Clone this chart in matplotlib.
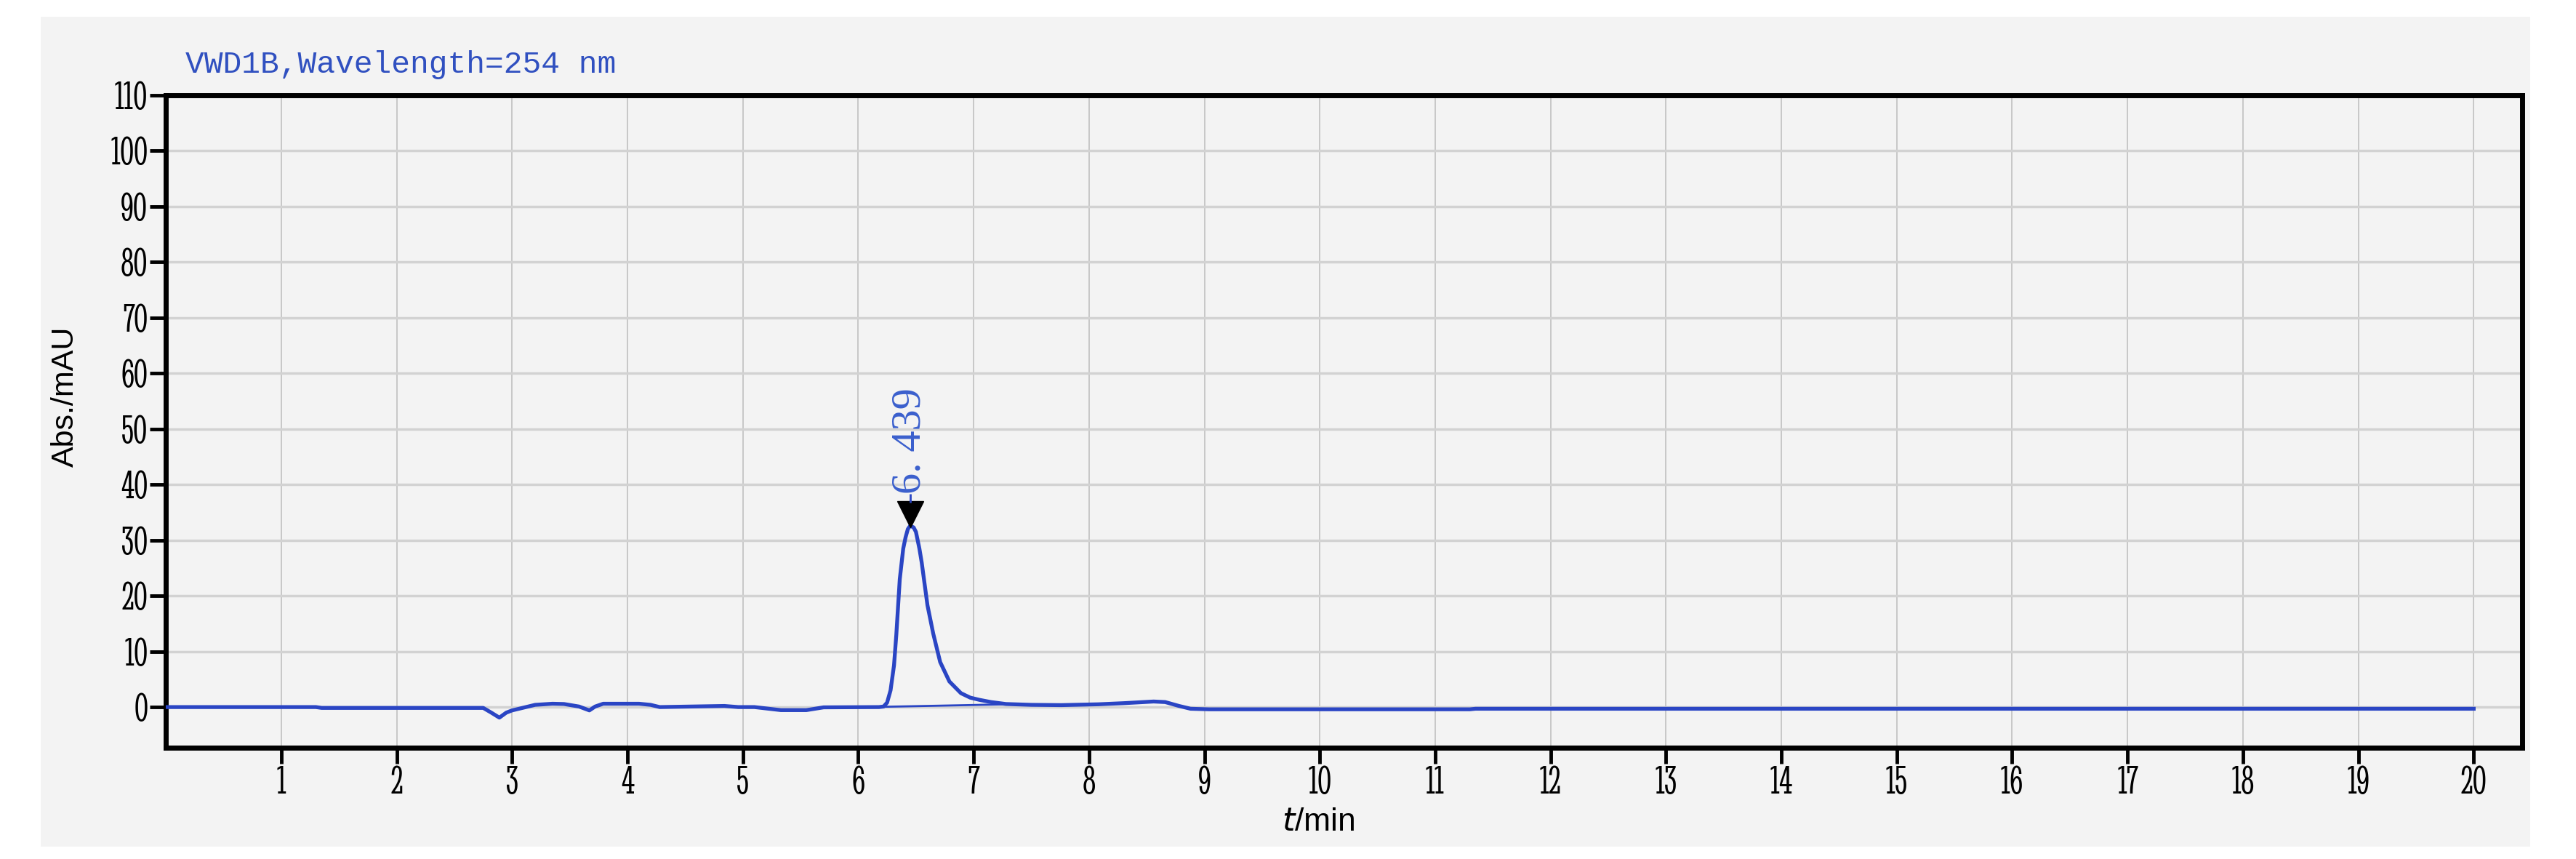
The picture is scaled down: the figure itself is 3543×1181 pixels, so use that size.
import matplotlib
matplotlib.use('Agg')
import matplotlib.pyplot as plt
import matplotlib.transforms as mtransforms
from matplotlib.patches import Rectangle

# chromatogram trace (time in min, absorbance in mAU)
time_min = [0.0, 1.3, 1.35, 2.75, 2.82, 2.89, 2.95, 3.0, 3.07, 3.2, 3.35, 3.45, 3.58,
            3.67, 3.72, 3.79, 4.1, 4.2, 4.28, 4.84, 4.96, 5.1, 5.33, 5.55, 5.7,
            6.18, 6.22, 6.25, 6.28, 6.31, 6.33, 6.36, 6.39, 6.41, 6.43, 6.45, 6.48,
            6.5, 6.53, 6.55, 6.6, 6.65, 6.71, 6.79, 6.89, 6.97, 7.05, 7.15, 7.28,
            7.5, 7.76, 8.08, 8.3, 8.56, 8.66, 8.78, 8.88, 9.04, 11.3, 11.35, 20.0]
abs_mau = [0.0, 0.0, -0.15, -0.15, -1.0, -1.9, -1.0, -0.6, -0.25, 0.4, 0.6, 0.55, 0.1,
           -0.6, 0.1, 0.6, 0.6, 0.4, 0.0, 0.2, 0.0, 0.0, -0.55, -0.55, -0.05,
           0.0, 0.1, 0.8, 3.0, 7.5, 13.0, 23.0, 28.5, 30.5, 32.0, 32.6, 32.3,
           31.5, 28.5, 26.0, 18.3, 13.2, 8.1, 4.6, 2.5, 1.7, 1.3, 0.9, 0.55,
           0.4, 0.35, 0.5, 0.7, 1.0, 0.9, 0.2, -0.3, -0.4, -0.4, -0.3, -0.3]

# integration baseline under the peak
base_t = [6.22, 7.3]
base_a = [0.05, 0.5]

peak_x = 6.45
peak_y = 32.6
peak_label = '6. 439'

title = 'VWD1B,Wavelength=254 nm'
xticks = list(range(1, 21))
yticks = list(range(0, 111, 10))

blue = '#2a45c4'
panel = '#f3f3f3'
tick_font = dict(family='Stint Ultra Condensed', fontsize=41)

fig = plt.figure(figsize=(35.43, 11.81), dpi=100)
fig.patch.set_facecolor('white')
fig.patches.append(Rectangle((0.0158, 0.0144), 0.9664, 0.9661, transform=fig.transFigure,
                             facecolor=panel, edgecolor='none', zorder=-10))

ax = fig.add_axes([0.0644, 0.1296, 0.9147, 0.7595])
ax.set_facecolor(panel)
ax.set_xlim(0, 20.42)
ax.set_ylim(-7.3, 110)

ax.set_xticks(xticks)
ax.set_yticks(yticks)
ax.set_xticklabels([str(v) for v in xticks], **tick_font)
ax.set_yticklabels([str(v) for v in yticks], **tick_font)
ax.tick_params(axis='both', direction='out', length=16, width=3.5, color='black', pad=2)

ax.grid(axis='x', color='#c4c4c4', linewidth=1.3)
ax.grid(axis='y', color='#d2d2d2', linewidth=2.5)
ax.set_axisbelow(True)
for s in ax.spines.values():
    s.set_linewidth(5)
    s.set_color('black')

ax.plot(time_min, abs_mau, color=blue, linewidth=3.8, zorder=3)
ax.plot(base_t, base_a, color=blue, linewidth=2, zorder=3)

# peak marker, tip on the apex
tri = mtransforms.offset_copy(ax.transData, fig=fig, x=0, y=16, units='dots')
ax.plot([peak_x], [peak_y], marker='v', markersize=26, color='black', transform=tri, zorder=4)
stem = mtransforms.offset_copy(ax.transData, fig=fig, x=0, y=38, units='dots')
ax.plot([peak_x], [peak_y], marker='|', markersize=9, markeredgewidth=2, color=blue,
        transform=stem, zorder=4)
ax.annotate(peak_label, xy=(peak_x, peak_y), xytext=(0, 44), textcoords='offset pixels',
            rotation=90, ha='center', va='bottom', color='#3a5fcd',
            family='Liberation Serif', fontsize=42)

fig.text(255 / 3543, 1 - 100 / 1181, title, color='#3050c0', family='Liberation Mono',
         fontsize=31, ha='left', va='baseline')
fig.text(90 / 3543, 1 - 545 / 1181, 'Abs./mAU', rotation=90, family='Liberation Sans',
         fontsize=31, ha='center', va='center')
fig.text(1813 / 3543, 1 - 1130 / 1181, r'$\it{t}$/min', family='Liberation Sans',
         fontsize=32, ha='center', va='center')

fig.savefig('out.png', dpi=100)
